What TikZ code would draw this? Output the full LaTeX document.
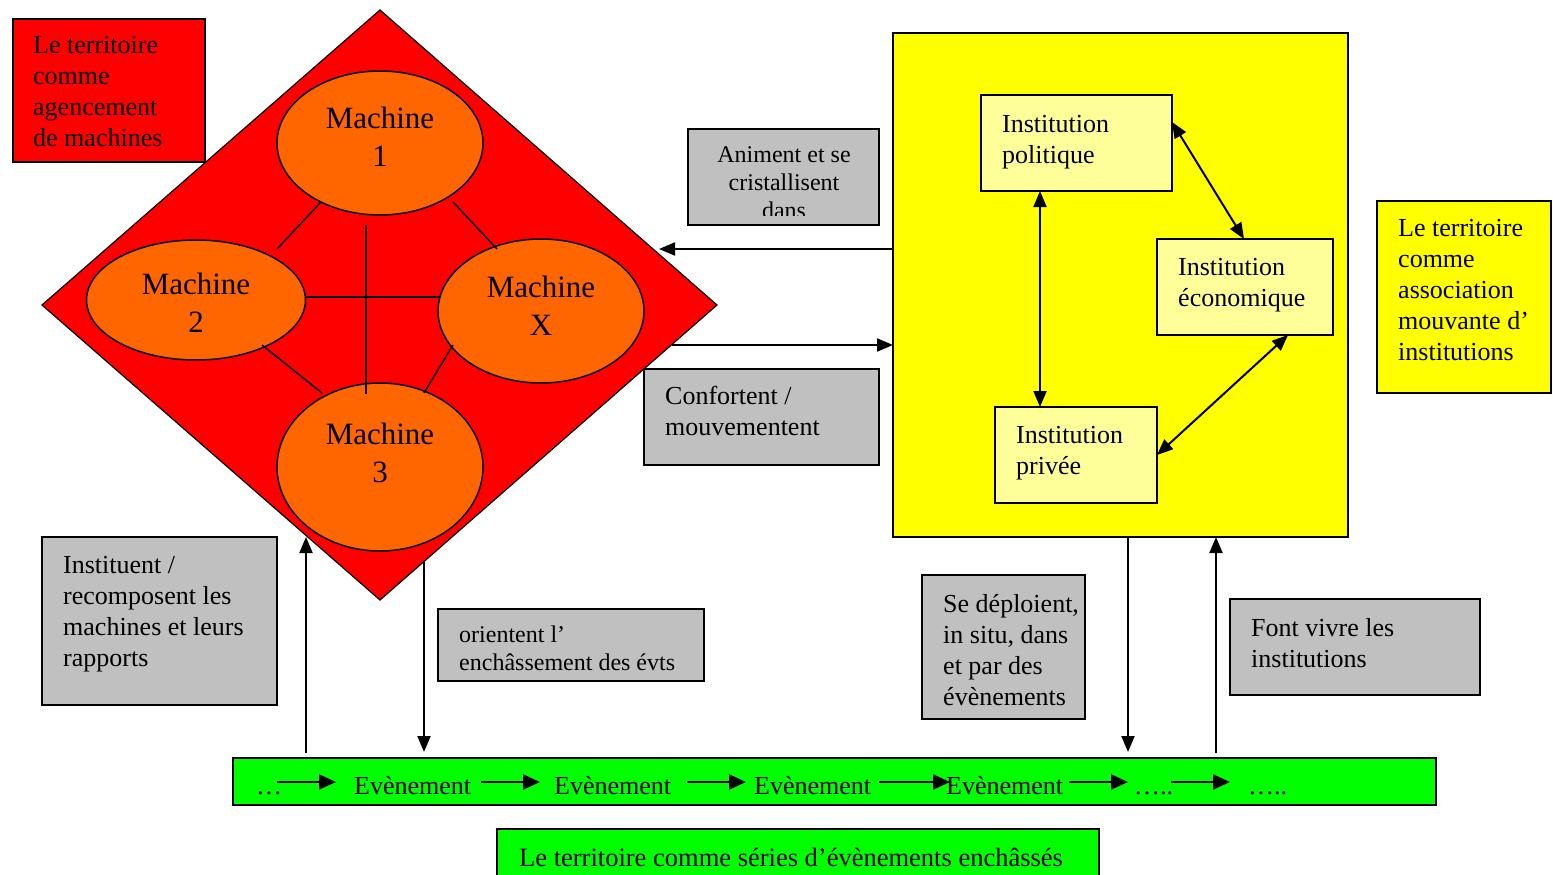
\documentclass[tikz,border=0pt]{standalone}
\usepackage{fontspec}
\setmainfont{Liberation Serif}
\usetikzlibrary{shapes.geometric,arrows.meta,calc}
\definecolor{cred}{HTML}{FF0000}
\definecolor{corange}{HTML}{FF6600}
\definecolor{cyellow}{HTML}{FFFF00}
\definecolor{clyellow}{HTML}{FFFF99}
\definecolor{cgray}{HTML}{C0C0C0}
\definecolor{cgreen}{HTML}{00FF00}
\newcommand\fA{\fontsize{26}{31}\selectfont}
\newcommand\fB{\fontsize{24}{28}\selectfont}
\newcommand\fM{\fontsize{31}{38}\selectfont}
\begin{document}
\begin{tikzpicture}[x=1pt,y=-1pt,
  box/.style={draw=black, line width=2pt, rectangle, inner sep=0pt, outer sep=0pt},
  txt/.style={anchor=north west, inner sep=0pt, align=left, font=\fA},
  ctxt/.style={anchor=north, inner sep=0pt, align=center},
  btxt/.style={anchor=base west, inner sep=0pt, font=\fA},
  arr/.style={line width=2pt, -{Triangle[length=16pt,width=13pt]}},
  barr/.style={line width=2.5pt, -{Triangle[length=17pt,width=15pt]}},
  dbl/.style={line width=2pt, {Triangle[length=16pt,width=13pt]}-{Triangle[length=16pt,width=13pt]}},
  mach/.style={ellipse, draw=black, line width=1.5pt, fill=corange, inner sep=0pt},
  link/.style={line width=1.5pt}]
\useasboundingbox (0,0) rectangle (1553,875);

% ---- diamond of machines
\coordinate (dT) at (380,10);
\coordinate (dL) at (42,305);
\coordinate (dR) at (717,305);
\coordinate (dBt) at (380,600);
\filldraw[fill=cred, draw=black, line width=1.2pt] (dT) -- (dR) -- (dBt) -- (dL) -- cycle;

\node[mach, minimum width=206, minimum height=144] (m1) at (380,143) {};
\node[mach, minimum width=219, minimum height=120] (m2) at (196,300) {};
\node[mach, minimum width=206, minimum height=144] (mx) at (541,311) {};
\node[mach, minimum width=206, minimum height=168] (m3) at (380,467) {};

\draw[link] (321,202) -- (277,249);
\draw[link] (453,202) -- (497,249);
\draw[link] (366,225) -- (366,394);
\draw[link] (306,297) -- (440,297);
\draw[link] (262,345) -- (322,393);
\draw[link] (453,345) -- (424,393);

\node[ctxt, font=\fM] (tm1) at (380,101.4) {\strut Machine\\1};
\node[ctxt, font=\fM] (tm2) at (196,267.4) {\strut Machine\\2};
\node[ctxt, font=\fM] (tmx) at (541,270.4) {\strut Machine\\X};
\node[ctxt, font=\fM] (tm3) at (380,417.4) {\strut Machine\\3};

% ---- red label
\node[box, fill=cred, minimum width=192, minimum height=143] (bred) at (109,90.5) {};
\node[txt] (tred) at (33,31.3) {\strut Le territoire\\comme\\agencement\\de machines};

% ---- grey labels
\node[box, fill=cgray, minimum width=191, minimum height=96] (bani) at (783.5,177) {};
\begin{scope}
\clip (688,129) rectangle (879,215);
\node[ctxt, font=\fB] (tani) at (784,142.4) {\strut Animent et se\\cristallisent\\dans};
\end{scope}

\node[box, fill=cgray, minimum width=235, minimum height=96] (bconf) at (761.5,417) {};
\node[txt] (tconf) at (665,382.3) {\strut Confortent /\\mouvementent};

\node[box, fill=cgray, minimum width=235, minimum height=168] (binst) at (159.5,621) {};
\node[txt] (tinst) at (63,551.3) {\strut Instituent /\\recomposent les\\machines et leurs\\rapports};

\node[box, fill=cgray, minimum width=266, minimum height=72] (bori) at (571,645) {};
\node[txt, font=\fB] (tori) at (459,622.4) {\strut orientent l’\\enchâssement des évts};

\node[box, fill=cgray, minimum width=163, minimum height=144] (bdep) at (1003.5,647) {};
\node[txt] (tdep) at (943,590.3) {\strut Se déploient,\\in situ, dans\\et par des\\évènements};

\node[box, fill=cgray, minimum width=250, minimum height=96] (bfont) at (1355,647) {};
\node[txt] (tfont) at (1251,614.3) {\strut Font vivre les\\institutions};

% ---- yellow part
\node[box, fill=cyellow, minimum width=174, minimum height=192] (bry) at (1464,297) {};
\node[txt] (try) at (1398,214.3) {\strut Le territoire\\comme\\association\\mouvante d’\\institutions};

\node[box, fill=cyellow, minimum width=455, minimum height=504] (Y) at (1120.5,285) {};
\node[box, fill=clyellow, minimum width=191, minimum height=96] (ip) at (1076.5,143) {};
\node[txt] (tip) at (1002,110.3) {\strut Institution\\politique};
\node[box, fill=clyellow, minimum width=176, minimum height=96] (ie) at (1245,287) {};
\node[txt] (tie) at (1178,253.3) {\strut Institution\\économique};
\node[box, fill=clyellow, minimum width=162, minimum height=96] (ipr) at (1076,455) {};
\node[txt] (tipr) at (1016,421.3) {\strut Institution\\privée};

\draw[dbl] ($(ip.south west)+(59,0)$) -- ($(ipr.north west)+(45,0)$);
\draw[dbl] ($(ip.north east)+(0,27)$) -- ($(ie.north west)+(87,0)$);
\draw[dbl] ($(ie.south west)+(131,0)$) -- ($(ipr.north east)+(0,48)$);

% ---- green bars
\node[box, fill=cgreen, minimum width=1203, minimum height=47] (G) at (834.5,781.5) {};
\node[box, fill=cgreen, minimum width=602, minimum height=50] (G2) at (798,854) {};
\node[btxt, font=\fontsize{26.5}{31}\selectfont] (tg2) at (519,866) {Le territoire comme séries d’évènements enchâssés};

\node[btxt] (e0) at (256,794) {…};
\node[btxt] (e1) at (354,794) {Evènement};
\node[btxt] (e2) at (554,794) {Evènement};
\node[btxt] (e3) at (754,794) {Evènement};
\node[btxt] (e4) at (946,794) {Evènement};
\node[btxt] (e5) at (1134,794) {…..};
\node[btxt] (e6) at (1248,794) {…..};

\coordinate (a0) at (277,782); \coordinate (a0t) at (336,782);
\coordinate (a1) at (481,782); \coordinate (a1t) at (540,782);
\coordinate (a2) at (687,782); \coordinate (a2t) at (746,782);
\coordinate (a3) at (879,782); \coordinate (a3t) at (950,782);
\coordinate (a4) at (1069,782); \coordinate (a4t) at (1128,782);
\coordinate (a5) at (1171,782); \coordinate (a5t) at (1230,782);
\draw[barr] (a0) -- (a0t);
\draw[barr] (a1) -- (a1t);
\draw[barr] (a2) -- (a2t);
\draw[barr] (a3) -- (a3t);
\draw[barr] (a4) -- (a4t);
\draw[barr] (a5) -- (a5t);

% ---- big connectors
\coordinate (dA) at (659,249);
\coordinate (dB) at (672,345);
\coordinate (dC) at (306,537);
\coordinate (dD) at (424,562);
\draw[arr] ($(Y.north west)+(0,216)$) -- (dA);
\draw[arr] (dB) -- ($(Y.north west)+(0,312)$);
\draw[arr] ($(G.north west)+(73,-5)$) -- (dC);
\draw[arr] (dD) -- ($(G.north west)+(191,-6)$);
\draw[arr] ($(Y.south west)+(235,0)$) -- ($(G.north west)+(895,-6)$);
\draw[arr] ($(G.north west)+(983,-5)$) -- ($(Y.south west)+(323,0)$);
\end{tikzpicture}
\end{document}
